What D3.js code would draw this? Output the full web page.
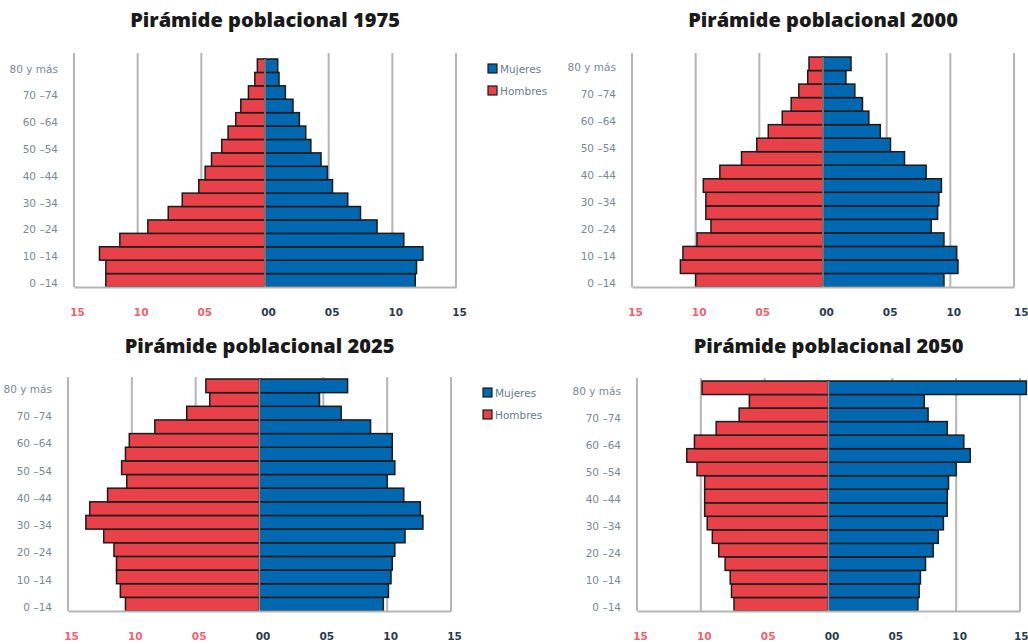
<!DOCTYPE html>
<html>
<head>
<meta charset="utf-8">
<script src="https://cdn.jsdelivr.net/npm/d3@7"></script>
<style>
  body { margin: 0; background: #fff; }
  svg { display: block; }
</style>
</head>
<body>
<div id="chart"></div>
<script>
// age groups, bottom to top (17 groups, only every other one is labelled)
const ageGroups = ["0 –14", "5 –9", "10 –14", "15 –19", "20 –24", "25 –29", "30 –34", "35 –39",
  "40 –44", "45 –49", "50 –54", "55 –59", "60 –64", "65 –69", "70 –74", "75 –79", "80 y más"];
const labelledGroups = ["0 –14", "10 –14", "20 –24", "30 –34", "40 –44", "50 –54", "60 –64", "70 –74", "80 y más"];
const xTicks = [-15, -10, -5, 0, 5, 10, 15];
const xTickLabels = ["15", "10", "05", "00", "05", "10", "15"];
const legendItems = ["Mujeres", "Hombres"];

// values per age group, bottom (0-4) to top (80+)
const hombres1975 = [12.5, 12.5, 13.0, 11.4, 9.2, 7.6, 6.5, 5.2, 4.7, 4.2, 3.4, 2.9, 2.3, 1.9, 1.3, 0.8, 0.6];
const mujeres1975 = [11.8, 11.9, 12.4, 10.9, 8.8, 7.5, 6.5, 5.3, 4.9, 4.4, 3.6, 3.2, 2.7, 2.2, 1.6, 1.1, 1.0];
const hombres2000 = [10.0, 11.2, 11.0, 9.9, 8.8, 9.2, 9.2, 9.4, 8.1, 6.4, 5.2, 4.3, 3.2, 2.5, 1.9, 1.2, 1.1];
const mujeres2000 = [9.5, 10.6, 10.5, 9.5, 8.5, 9.0, 9.1, 9.3, 8.1, 6.4, 5.3, 4.5, 3.6, 3.1, 2.5, 1.8, 2.2];
const hombres2025 = [10.5, 10.9, 11.2, 11.2, 11.4, 12.2, 13.6, 13.3, 11.9, 10.4, 10.8, 10.5, 10.2, 8.2, 5.7, 3.9, 4.2];
const mujeres2025 = [9.7, 10.1, 10.3, 10.4, 10.6, 11.4, 12.8, 12.6, 11.3, 10.0, 10.6, 10.4, 10.4, 8.7, 6.4, 4.7, 6.9];
const hombres2050 = [7.4, 7.6, 7.7, 8.1, 8.6, 9.1, 9.5, 9.7, 9.7, 9.7, 10.3, 11.1, 10.5, 8.8, 7.0, 6.2, 9.9];
const mujeres2050 = [7.0, 7.1, 7.2, 7.6, 8.2, 8.6, 9.0, 9.3, 9.3, 9.4, 10.0, 11.1, 10.6, 9.3, 7.8, 7.5, 15.5];

const RED = "#e8414a";
const BLUE = "#0068b0";
const GRID = "#b5b5b5";

const svg = d3.select("#chart").append("svg")
  .attr("width", 1028)
  .attr("height", 644);

const panels = [
  { title: "Pirámide poblacional 1975", hombres: hombres1975, mujeres: mujeres1975,
    left: 74, right: 456, gridTop: 53, barTop: 59, bottom: 287, titleY: 27, legend: [488, 69] },
  { title: "Pirámide poblacional 2000", hombres: hombres2000, mujeres: mujeres2000,
    left: 632, right: 1014, gridTop: 53, barTop: 57, bottom: 287, titleY: 27 },
  { title: "Pirámide poblacional 2025", hombres: hombres2025, mujeres: mujeres2025,
    left: 68, right: 451, gridTop: 377, barTop: 379, bottom: 611, titleY: 353, legend: [483, 393] },
  { title: "Pirámide poblacional 2050", hombres: hombres2050, mujeres: mujeres2050,
    left: 637, right: 1020, gridTop: 378, barTop: 381, bottom: 611, titleY: 353 }
];

function drawPyramid(p) {
  const g = svg.append("g");

  const x = d3.scaleLinear()
    .domain([-15, 15])
    .range([p.left, p.right]);

  const y = d3.scaleBand()
    .domain(ageGroups.slice().reverse())
    .range([p.barTop, p.bottom])
    .padding(0);

  // title
  g.append("text")
    .attr("x", x(0))
    .attr("y", p.titleY)
    .attr("text-anchor", "middle")
    .style("font-family", "'Open Sans', sans-serif")
    .style("font-weight", 800)
    .style("font-size", "20px")
    .style("fill", "#1a1a1a")
    .text(p.title);

  // vertical gridlines
  g.selectAll(".grid")
    .data(xTicks.filter(d => d !== 0))
    .join("line")
    .attr("x1", d => x(d))
    .attr("x2", d => x(d))
    .attr("y1", p.gridTop)
    .attr("y2", p.bottom)
    .attr("stroke", GRID)
    .attr("stroke-width", 2);

  // Hombres (left)
  g.selectAll(".hombres")
    .data(p.hombres)
    .join("rect")
    .attr("x", d => x(-d))
    .attr("y", (d, i) => y(ageGroups[i]))
    .attr("width", d => x(0) - x(-d))
    .attr("height", y.bandwidth())
    .attr("fill", RED)
    .attr("stroke", "#1a1a1a")
    .attr("stroke-width", 1.5);

  // Mujeres (right)
  g.selectAll(".mujeres")
    .data(p.mujeres)
    .join("rect")
    .attr("x", x(0))
    .attr("y", (d, i) => y(ageGroups[i]))
    .attr("width", d => x(d) - x(0))
    .attr("height", y.bandwidth())
    .attr("fill", BLUE)
    .attr("stroke", "#1a1a1a")
    .attr("stroke-width", 1.5);

  // zero line on top of bars
  g.append("line")
    .attr("x1", x(0))
    .attr("x2", x(0))
    .attr("y1", p.barTop)
    .attr("y2", p.bottom)
    .attr("stroke", "#8c8c8c")
    .attr("stroke-width", 1.5);

  // bottom axis
  const xAxis = g.append("g")
    .attr("transform", `translate(0,${p.bottom})`)
    .call(d3.axisBottom(x)
      .tickValues(xTicks)
      .tickSize(0)
      .tickPadding(22)
      .tickFormat((d, i) => xTickLabels[i]));
  xAxis.select(".domain").attr("stroke", GRID).attr("stroke-width", 2);
  xAxis.selectAll("text")
    .style("font-family", "'DejaVu Sans', sans-serif")
    .style("font-size", "10.5px")
    .style("font-weight", 700)
    .attr("dx", d => (x(d) > 1010 ? 0 : 3))
    .attr("text-anchor", d => (x(d) > 1010 ? "end" : "middle"))
    .attr("x", d => (x(d) > 1010 ? 1028 - x(d) : 0))
    .style("fill", d => d < 0 ? "#f2606e" : "#2c3a4c");

  // age labels
  const yAxis = g.append("g")
    .attr("transform", `translate(${p.left - 16},0)`)
    .call(d3.axisLeft(y)
      .tickValues(labelledGroups)
      .tickSize(0)
      .tickPadding(0));
  yAxis.select(".domain").remove();
  yAxis.selectAll("text")
    .attr("dy", "0.65em")
    .style("font-family", "'DejaVu Sans', sans-serif")
    .style("font-size", "10.5px")
    .style("fill", "#7a8794");

  // legend
  if (p.legend) {
    const leg = g.append("g").attr("transform", `translate(${p.legend[0]},${p.legend[1]})`);
    legendItems.forEach((name, i) => {
      leg.append("rect")
        .attr("x", 0)
        .attr("y", i * 22 - 5)
        .attr("width", 9)
        .attr("height", 9)
        .attr("fill", name === "Mujeres" ? BLUE : RED)
        .attr("stroke", "#1a1a1a")
        .attr("stroke-width", 1.2);
      leg.append("text")
        .attr("x", 12)
        .attr("y", i * 22)
        .attr("dy", "0.35em")
        .style("font-family", "'DejaVu Sans', sans-serif")
        .style("font-size", "10.5px")
        .style("fill", "#6b7a8a")
        .text(name);
    });
  }
}

panels.forEach(drawPyramid);
</script>
</body>
</html>
